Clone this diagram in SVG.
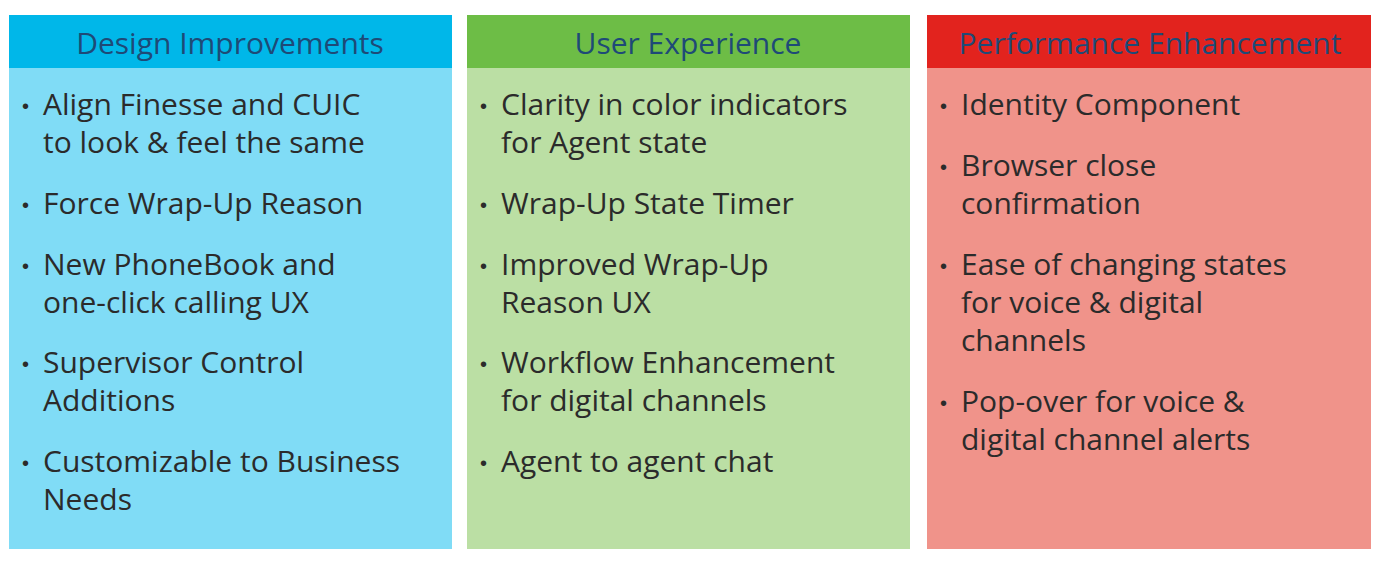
<svg xmlns="http://www.w3.org/2000/svg" width="1382" height="561" viewBox="0 0 1382 561">
<style>
.h{font-family:"Open Sans","Liberation Sans",sans-serif;font-size:30px;fill:#1e4a77;text-anchor:middle}
.t{font-family:"Open Sans","Liberation Sans",sans-serif;font-size:30px;fill:#2b2b2b}
.b{font-family:"Liberation Sans",sans-serif;font-size:20px;fill:#2b2b2b}
</style>
<rect width="1382" height="561" fill="#fff"/>
<g id="design">
<rect x="9" y="15" width="443" height="534" fill="#80dcf6"/>
<rect x="9" y="15" width="443" height="53" fill="#00b7e9"/>
<text class="h" x="230" y="54">Design Improvements</text>
<text class="b" x="22" y="113">•</text><text class="t" x="43" y="115">Align Finesse and CUIC</text><text class="t" x="43" y="153">to look &amp; feel the same</text>
<text class="b" x="22" y="212">•</text><text class="t" x="43" y="214">Force Wrap-Up Reason</text>
<text class="b" x="22" y="273">•</text><text class="t" x="43" y="275">New PhoneBook and</text><text class="t" x="43" y="313">one-click calling UX</text>
<text class="b" x="22" y="371">•</text><text class="t" x="43" y="373">Supervisor Control</text><text class="t" x="43" y="411">Additions</text>
<text class="b" x="22" y="470">•</text><text class="t" x="43" y="472">Customizable to Business</text><text class="t" x="43" y="510">Needs</text>
</g>
<g id="ux">
<rect x="467" y="15" width="443" height="534" fill="#bbdfa4"/>
<rect x="467" y="15" width="443" height="53" fill="#6dbd46"/>
<text class="h" x="688" y="54">User Experience</text>
<text class="b" x="480" y="113">•</text><text class="t" x="501" y="115">Clarity in color indicators</text><text class="t" x="501" y="153">for Agent state</text>
<text class="b" x="480" y="212">•</text><text class="t" x="501" y="214">Wrap-Up State Timer</text>
<text class="b" x="480" y="273">•</text><text class="t" x="501" y="275">Improved Wrap-Up</text><text class="t" x="501" y="313">Reason UX</text>
<text class="b" x="480" y="371">•</text><text class="t" x="501" y="373">Workflow Enhancement</text><text class="t" x="501" y="411">for digital channels</text>
<text class="b" x="480" y="470">•</text><text class="t" x="501" y="472">Agent to agent chat</text>
</g>
<g id="perf">
<rect x="927" y="15" width="444" height="534" fill="#f0938a"/>
<rect x="927" y="15" width="444" height="53" fill="#e2231e"/>
<text class="h" x="1150" y="54">Performance Enhancement</text>
<text class="b" x="940" y="113">•</text><text class="t" x="961" y="115">Identity Component</text>
<text class="b" x="940" y="174">•</text><text class="t" x="961" y="176">Browser close</text><text class="t" x="961" y="214">confirmation</text>
<text class="b" x="940" y="273">•</text><text class="t" x="961" y="275">Ease of changing states</text><text class="t" x="961" y="313">for voice &amp; digital</text><text class="t" x="961" y="351">channels</text>
<text class="b" x="940" y="410">•</text><text class="t" x="961" y="412">Pop-over for voice &amp;</text><text class="t" x="961" y="450">digital channel alerts</text>
</g>
<g id="connectors"/>
</svg>
